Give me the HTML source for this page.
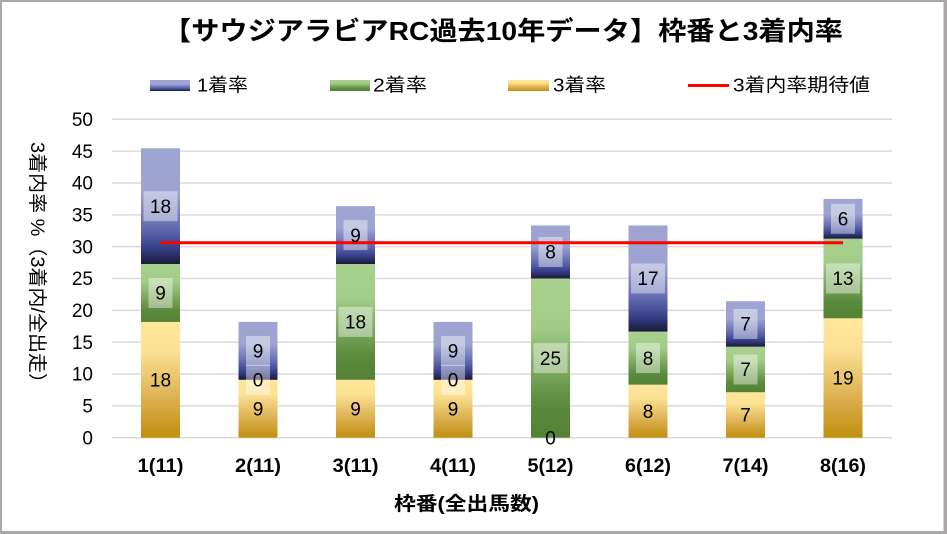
<!DOCTYPE html>
<html><head><meta charset="utf-8"><style>
html,body{margin:0;padding:0;background:#fff;}
svg{display:block;}
text{font-family:"Liberation Sans","Noto Sans CJK JP",sans-serif;}
</style></head><body>
<svg width="947" height="534" viewBox="0 0 947 534" xmlns="http://www.w3.org/2000/svg">
<defs>
<linearGradient id="g1" x1="0" y1="0" x2="0" y2="1">
<stop offset="0" stop-color="#9fa4d2"/><stop offset="0.38" stop-color="#9ea3d1"/><stop offset="0.7" stop-color="#5f67ad"/><stop offset="0.86" stop-color="#36408a"/><stop offset="1" stop-color="#1a1a38"/>
</linearGradient>
<linearGradient id="g2" x1="0" y1="0" x2="0" y2="1">
<stop offset="0" stop-color="#a9d18e"/><stop offset="0.3" stop-color="#a2cc88"/><stop offset="0.8" stop-color="#5a8a3b"/><stop offset="1" stop-color="#548235"/>
</linearGradient>
<linearGradient id="g3" x1="0" y1="0" x2="0" y2="1">
<stop offset="0" stop-color="#ffe699"/><stop offset="0.25" stop-color="#fce194"/><stop offset="0.7" stop-color="#d9ac4a"/><stop offset="1" stop-color="#bf8f0c"/>
</linearGradient>
</defs>
<rect x="0" y="0" width="947" height="534" fill="#fff"/>
<!-- border -->
<rect x="1" y="1" width="943.5" height="531" fill="none" stroke="#aaa8a8" stroke-width="2"/>
<rect x="944" y="0" width="3" height="534" fill="#aaa8a8"/>
<rect x="0" y="532" width="947" height="2" fill="#aaa8a8"/>

<!-- title -->
<text x="163" y="40" font-size="26" font-weight="bold" fill="#000" textLength="680" lengthAdjust="spacingAndGlyphs">【サウジアラビアRC過去10年データ】枠番と3着内率</text>

<!-- legend -->
<rect x="150" y="80" width="40" height="11" fill="url(#g1)"/>
<text x="197" y="91.5" font-size="18.5" fill="#000" textLength="51" lengthAdjust="spacingAndGlyphs">1着率</text>
<rect x="330" y="80" width="40" height="11" fill="url(#g2)"/>
<text x="373" y="91.5" font-size="18.5" fill="#000" textLength="54" lengthAdjust="spacingAndGlyphs">2着率</text>
<rect x="508" y="80" width="41" height="11" fill="url(#g3)"/>
<text x="553" y="91.5" font-size="18.5" fill="#000" textLength="53" lengthAdjust="spacingAndGlyphs">3着率</text>
<line x1="688" y1="85.5" x2="729" y2="85.5" stroke="#ff0000" stroke-width="3"/>
<text x="733" y="91.5" font-size="18.5" fill="#000" textLength="137" lengthAdjust="spacingAndGlyphs">3着内率期待値</text>

<!-- gridlines -->
<g stroke="#d9d9d9" stroke-width="1.5">
<line x1="112" y1="437.7" x2="892" y2="437.7"/>
<line x1="112" y1="405.86" x2="892" y2="405.86"/>
<line x1="112" y1="374.02" x2="892" y2="374.02"/>
<line x1="112" y1="342.18" x2="892" y2="342.18"/>
<line x1="112" y1="310.34" x2="892" y2="310.34"/>
<line x1="112" y1="278.5" x2="892" y2="278.5"/>
<line x1="112" y1="246.66" x2="892" y2="246.66"/>
<line x1="112" y1="214.82" x2="892" y2="214.82"/>
<line x1="112" y1="182.98" x2="892" y2="182.98"/>
<line x1="112" y1="151.14" x2="892" y2="151.14"/>
<line x1="112" y1="119.3" x2="892" y2="119.3"/>
</g>

<!-- y tick labels -->
<g font-size="19" fill="#000" text-anchor="end">
<text x="93" y="444.4">0</text>
<text x="93" y="412.6">5</text>
<text x="93" y="380.7">10</text>
<text x="93" y="348.9">15</text>
<text x="93" y="317.0">20</text>
<text x="93" y="285.2">25</text>
<text x="93" y="253.4">30</text>
<text x="93" y="221.5">35</text>
<text x="93" y="189.7">40</text>
<text x="93" y="157.8">45</text>
<text x="93" y="126.0">50</text>
</g>

<!-- y axis title -->
<g transform="translate(38,267.5) rotate(90)">
<text x="0" y="7" font-size="19" fill="#000" text-anchor="middle" textLength="251" lengthAdjust="spacingAndGlyphs">3着内率 %（3着内/全出走）</text>
</g>

<!-- bars -->
<!-- b1 c=160.5 -->
<rect x="141" y="321.93" width="39" height="115.77" fill="url(#g3)"/>
<rect x="141" y="264.04" width="39" height="57.89" fill="url(#g2)"/>
<rect x="141" y="148.27" width="39" height="115.77" fill="url(#g1)"/>
<!-- b2 c=258 -->
<rect x="238.5" y="379.81" width="39" height="57.89" fill="url(#g3)"/>
<rect x="238.5" y="321.93" width="39" height="57.88" fill="url(#g1)"/>
<!-- b3 c=355.5 -->
<rect x="336" y="379.81" width="39" height="57.89" fill="url(#g3)"/>
<rect x="336" y="264.04" width="39" height="115.77" fill="url(#g2)"/>
<rect x="336" y="206.16" width="39" height="57.88" fill="url(#g1)"/>
<!-- b4 c=453 -->
<rect x="433.5" y="379.81" width="39" height="57.89" fill="url(#g3)"/>
<rect x="433.5" y="321.93" width="39" height="57.88" fill="url(#g1)"/>
<!-- b5 c=550.5 -->
<rect x="531" y="278.5" width="39" height="159.2" fill="url(#g2)"/>
<rect x="531" y="225.45" width="39" height="53.05" fill="url(#g1)"/>
<!-- b6 c=648 -->
<rect x="628.5" y="384.65" width="39" height="53.05" fill="url(#g3)"/>
<rect x="628.5" y="331.55" width="39" height="53.1" fill="url(#g2)"/>
<rect x="628.5" y="225.45" width="39" height="106.1" fill="url(#g1)"/>
<!-- b7 c=745.5 -->
<rect x="726" y="392.23" width="39" height="45.47" fill="url(#g3)"/>
<rect x="726" y="346.7" width="39" height="45.53" fill="url(#g2)"/>
<rect x="726" y="301.23" width="39" height="45.47" fill="url(#g1)"/>
<!-- b8 c=843 -->
<rect x="823.5" y="318.3" width="39" height="119.4" fill="url(#g3)"/>
<rect x="823.5" y="238.7" width="39" height="79.6" fill="url(#g2)"/>
<rect x="823.5" y="198.9" width="39" height="39.8" fill="url(#g1)"/>

<!-- label boxes -->
<g fill="#ffffff" fill-opacity="0.42">
<rect x="143.5" y="191.2" width="34" height="30"/>
<rect x="148.5" y="278" width="24" height="30"/>
<rect x="246" y="335.9" width="24" height="30"/>
<rect x="246" y="364.8" width="24" height="30"/>
<rect x="338.5" y="306.9" width="34" height="30"/>
<rect x="343.5" y="220.1" width="24" height="30"/>
<rect x="441" y="335.9" width="24" height="30"/>
<rect x="441" y="364.8" width="24" height="30"/>
<rect x="533.5" y="343.1" width="34" height="30"/>
<rect x="538.5" y="237" width="24" height="30"/>
<rect x="636" y="343.1" width="24" height="30"/>
<rect x="631" y="263.5" width="34" height="30"/>
<rect x="733.5" y="354.5" width="24" height="30"/>
<rect x="733.5" y="309" width="24" height="30"/>
<rect x="826" y="263.5" width="34" height="30"/>
<rect x="831" y="203.8" width="24" height="30"/>
</g>

<!-- red line -->
<line x1="160.5" y1="242.8" x2="843" y2="242.8" stroke="#ff0000" stroke-width="3"/>

<!-- data labels -->
<g font-size="19" fill="#000" text-anchor="middle">
<text x="160.5" y="386.5">18</text>
<text x="160.5" y="299.7">9</text>
<text x="160.5" y="212.9">18</text>

<text x="258" y="415.5">9</text>
<text x="258" y="386.5">0</text>
<text x="258" y="357.6">9</text>

<text x="355.5" y="415.5">9</text>
<text x="355.5" y="328.6">18</text>
<text x="355.5" y="241.8">9</text>

<text x="453" y="415.5">9</text>
<text x="453" y="386.5">0</text>
<text x="453" y="357.6">9</text>

<text x="550.5" y="444.4">0</text>
<text x="550.5" y="364.8">25</text>
<text x="550.5" y="258.7">8</text>

<text x="648" y="417.9">8</text>
<text x="648" y="364.8">8</text>
<text x="648" y="285.2">17</text>

<text x="745.5" y="421.7">7</text>
<text x="745.5" y="376.2">7</text>
<text x="745.5" y="330.7">7</text>

<text x="843" y="384.7">19</text>
<text x="843" y="285.2">13</text>
<text x="843" y="225.5">6</text>
</g>

<!-- x category labels -->
<g font-size="19" font-weight="bold" fill="#000" text-anchor="middle">
<text x="160.5" y="472" textLength="46" lengthAdjust="spacingAndGlyphs">1(11)</text>
<text x="258" y="472" textLength="46" lengthAdjust="spacingAndGlyphs">2(11)</text>
<text x="355.5" y="472" textLength="46" lengthAdjust="spacingAndGlyphs">3(11)</text>
<text x="453" y="472" textLength="46" lengthAdjust="spacingAndGlyphs">4(11)</text>
<text x="550.5" y="472" textLength="46" lengthAdjust="spacingAndGlyphs">5(12)</text>
<text x="648" y="472" textLength="46" lengthAdjust="spacingAndGlyphs">6(12)</text>
<text x="745.5" y="472" textLength="46" lengthAdjust="spacingAndGlyphs">7(14)</text>
<text x="843" y="472" textLength="46" lengthAdjust="spacingAndGlyphs">8(16)</text>
</g>

<!-- x axis title -->
<text x="394" y="510" font-size="19" font-weight="bold" fill="#000" textLength="145" lengthAdjust="spacingAndGlyphs">枠番(全出馬数)</text>
</svg>
</body></html>
